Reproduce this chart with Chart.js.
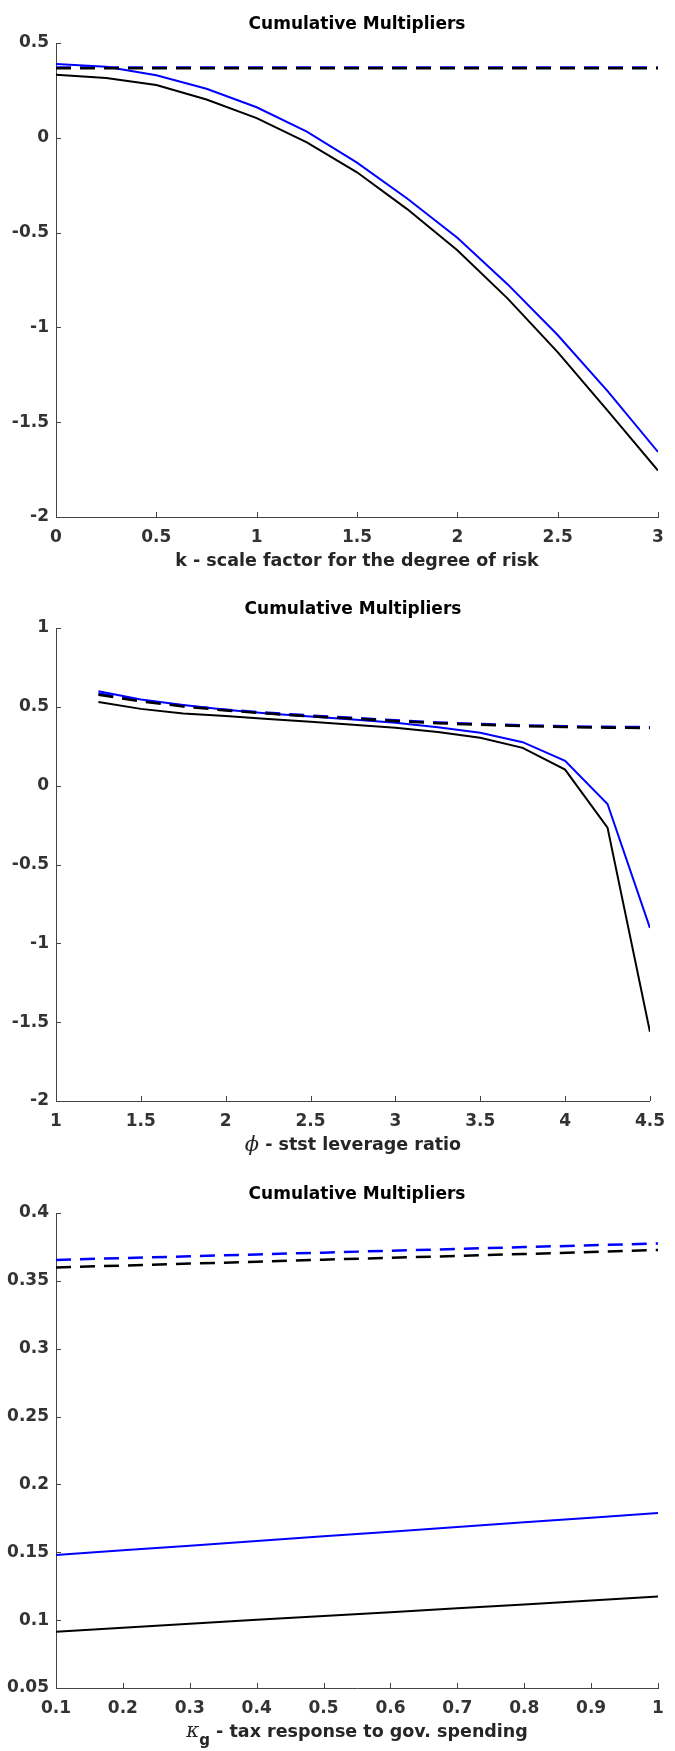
<!DOCTYPE html>
<html>
<head>
<meta charset="utf-8">
<script src="https://cdn.jsdelivr.net/npm/chart.js@4.4.1/dist/chart.umd.min.js"></script>
<style>
body { margin: 0; background: #fff; }
.box { position: absolute; left: 0; width: 675px; }
canvas { display: block; }
</style>
</head>
<body>
<div class="box" style="top:0"><canvas id="c1" width="675" height="585"></canvas></div>
<div class="box" style="top:585px"><canvas id="c2" width="675" height="585"></canvas></div>
<div class="box" style="top:1170px"><canvas id="c3" width="675" height="581"></canvas></div>
<script>
// panel 1 - k, scale factor for the degree of risk
var kX = [0, 0.25, 0.5, 0.75, 1, 1.25, 1.5, 1.75, 2, 2.25, 2.5, 2.75, 3];
var kBlack = [0.332, 0.316, 0.278, 0.202, 0.104, -0.024, -0.182, -0.376, -0.593, -0.847, -1.13, -1.44, -1.755];
var kBlue = [0.389, 0.375, 0.330, 0.259, 0.161, 0.033, -0.131, -0.320, -0.527, -0.772, -1.04, -1.337, -1.657];
var kBlackDash = [0.367, 0.367, 0.367, 0.367, 0.367, 0.367, 0.367, 0.367, 0.367, 0.367, 0.367, 0.367, 0.367];
var kBlueDash = [0.371, 0.371, 0.371, 0.371, 0.371, 0.371, 0.371, 0.371, 0.371, 0.371, 0.371, 0.371, 0.371];
var kXTicks = [0, 0.5, 1, 1.5, 2, 2.5, 3];
var kYTicks = [-2, -1.5, -1, -0.5, 0, 0.5];

// panel 2 - phi, stst leverage ratio
var phiX = [1.25, 1.5, 1.75, 2, 2.25, 2.5, 2.75, 3, 3.25, 3.5, 3.75, 4, 4.25, 4.5];
var phiBlack = [0.530, 0.487, 0.458, 0.442, 0.423, 0.406, 0.387, 0.368, 0.340, 0.304, 0.240, 0.102, -0.266, -1.561];
var phiBlue = [0.599, 0.546, 0.511, 0.482, 0.458, 0.439, 0.420, 0.399, 0.371, 0.335, 0.276, 0.157, -0.116, -0.903];
var phiBlackDash = [0.577, 0.535, 0.502, 0.477, 0.457, 0.440, 0.425, 0.410, 0.396, 0.386, 0.378, 0.372, 0.368, 0.366];
var phiBlueDash = [0.584, 0.541, 0.507, 0.482, 0.462, 0.445, 0.430, 0.415, 0.401, 0.391, 0.383, 0.377, 0.373, 0.371];
var phiXTicks = [1, 1.5, 2, 2.5, 3, 3.5, 4, 4.5];
var phiYTicks = [-2, -1.5, -1, -0.5, 0, 0.5, 1];

// panel 3 - kappa_g, tax response to gov. spending
var kgX = [0.1, 0.2, 0.3, 0.4, 0.5, 0.6, 0.7, 0.8, 0.9, 1];
var kgBlack = [0.0915, 0.0944, 0.0973, 0.1002, 0.1031, 0.1059, 0.1087, 0.1116, 0.1145, 0.1174];
var kgBlue = [0.148, 0.1515, 0.1549, 0.1583, 0.1618, 0.1652, 0.1686, 0.1721, 0.1755, 0.179];
var kgBlackDash = [0.3599, 0.3613, 0.3627, 0.3641, 0.3656, 0.3670, 0.3684, 0.3698, 0.3713, 0.3727];
var kgBlueDash = [0.3654, 0.3668, 0.3681, 0.3695, 0.3708, 0.3722, 0.3735, 0.3749, 0.3762, 0.3776];
var kgXTicks = [0.1, 0.2, 0.3, 0.4, 0.5, 0.6, 0.7, 0.8, 0.9, 1];
var kgYTicks = [0.05, 0.1, 0.15, 0.2, 0.25, 0.3, 0.35, 0.4];

var tickFont = { family: 'DejaVu Sans', size: 17, weight: 'bold' };
var labelFont = 'bold 17.5px "DejaVu Sans"';

function pts(xs, ys) {
    return xs.map(function(x, i) { return { x: x, y: ys[i] }; });
}

// MATLAB-style ticks pointing into the plot
var inwardTicks = {
    id: 'inwardTicks',
    afterDraw: function(chart) {
        var ctx = chart.ctx, a = chart.chartArea, sx = chart.scales.x, sy = chart.scales.y;
        ctx.save();
        ctx.strokeStyle = '#444';
        ctx.lineWidth = 1;
        ctx.beginPath();
        sx.ticks.forEach(function(t) {
            var p = Math.round(sx.getPixelForValue(t.value)) + 0.5;
            ctx.moveTo(p, a.bottom);
            ctx.lineTo(p, a.bottom - 5);
        });
        sy.ticks.forEach(function(t) {
            var p = Math.round(sy.getPixelForValue(t.value)) + 0.5;
            ctx.moveTo(a.left, p);
            ctx.lineTo(a.left + 5, p);
        });
        ctx.stroke();
        ctx.restore();
    }
};

// x axis title made of pieces (greek letter, subscript)
function xTitle(parts) {
    return {
        id: 'xTitle',
        afterDraw: function(chart) {
            var ctx = chart.ctx, a = chart.chartArea;
            ctx.save();
            ctx.fillStyle = '#262626';
            ctx.textBaseline = 'middle';
            ctx.textAlign = 'left';
            var total = 0;
            parts.forEach(function(p) { ctx.font = p.font; total += ctx.measureText(p.text).width; });
            var x = (a.left + a.right) / 2 - total / 2, y = a.bottom + 44;
            parts.forEach(function(p) {
                ctx.font = p.font;
                ctx.fillText(p.text, x, y + (p.dy || 0));
                x += ctx.measureText(p.text).width;
            });
            ctx.restore();
        }
    };
}

function makeChart(id, opt) {
    var el = document.getElementById(id);
    var top = opt.top, bottom = opt.bottom;
    var titleLine = 17 * 1.2;
    new Chart(el, {
        type: 'line',
        data: {
            datasets: [
                { data: pts(opt.xs, opt.blackDash), borderColor: '#000', borderWidth: 2.5, borderDash: [15, 9] },
                { data: pts(opt.xs, opt.blueDash), borderColor: '#0000ff', borderWidth: 2.5, borderDash: [15, 9] },
                { data: pts(opt.xs, opt.black), borderColor: '#000', borderWidth: 2 },
                { data: pts(opt.xs, opt.blue), borderColor: '#0000ff', borderWidth: 2 }
            ]
        },
        options: {
            responsive: false,
            animation: false,
            devicePixelRatio: 1,
            elements: { point: { radius: 0 }, line: { tension: 0, fill: false } },
            layout: { padding: { left: 0, right: 17, top: 0, bottom: 0 } },
            plugins: {
                legend: { display: false },
                tooltip: { enabled: false },
                title: {
                    display: true,
                    text: 'Cumulative Multipliers',
                    fullSize: false,
                    color: '#000',
                    font: { family: 'DejaVu Sans', size: 17, weight: 'bold', lineHeight: 1.2 },
                    padding: { top: 14, bottom: top - 14 - titleLine }
                }
            },
            scales: {
                x: {
                    type: 'linear',
                    min: opt.xTicks[0],
                    max: opt.xTicks[opt.xTicks.length - 1],
                    grid: { display: false, drawTicks: false },
                    border: { display: true, color: '#444', width: 1 },
                    ticks: {
                        color: '#333', font: tickFont, padding: 10, maxRotation: 0,
                        callback: function(v) { return String(v); }
                    },
                    afterBuildTicks: function(s) { s.ticks = opt.xTicks.map(function(v) { return { value: v }; }); },
                    afterFit: function(s) { s.height = el.height - bottom; }
                },
                y: {
                    type: 'linear',
                    min: opt.yTicks[0],
                    max: opt.yTicks[opt.yTicks.length - 1],
                    grid: { display: false, drawTicks: false },
                    border: { display: true, color: '#444', width: 1 },
                    ticks: {
                        color: '#333', font: tickFont, padding: 7,
                        callback: function(v) { return String(v); }
                    },
                    afterBuildTicks: function(s) { s.ticks = opt.yTicks.map(function(v) { return { value: v }; }); },
                    afterFit: function(s) { s.width = 56; }
                }
            }
        },
        plugins: [inwardTicks, xTitle(opt.title)]
    });
}

makeChart('c1', {
    xs: kX, black: kBlack, blue: kBlue, blackDash: kBlackDash, blueDash: kBlueDash,
    xTicks: kXTicks, yTicks: kYTicks, top: 43, bottom: 517,
    title: [{ text: 'k - scale factor for the degree of risk', font: labelFont }]
});

makeChart('c2', {
    xs: phiX, black: phiBlack, blue: phiBlue, blackDash: phiBlackDash, blueDash: phiBlueDash,
    xTicks: phiXTicks, yTicks: phiYTicks, top: 43, bottom: 516,
    title: [
        { text: '\u03d5', font: 'italic 21px "DejaVu Serif"', dy: 1 },
        { text: ' - stst leverage ratio', font: labelFont }
    ]
});

makeChart('c3', {
    xs: kgX, black: kgBlack, blue: kgBlue, blackDash: kgBlackDash, blueDash: kgBlueDash,
    xTicks: kgXTicks, yTicks: kgYTicks, top: 43, bottom: 518,
    title: [
        { text: '\u03ba', font: 'italic 20px "DejaVu Serif"' },
        { text: 'g', font: 'bold 15px "DejaVu Sans"', dy: 9 },
        { text: ' - tax response to gov. spending', font: labelFont }
    ]
});
</script>
</body>
</html>
